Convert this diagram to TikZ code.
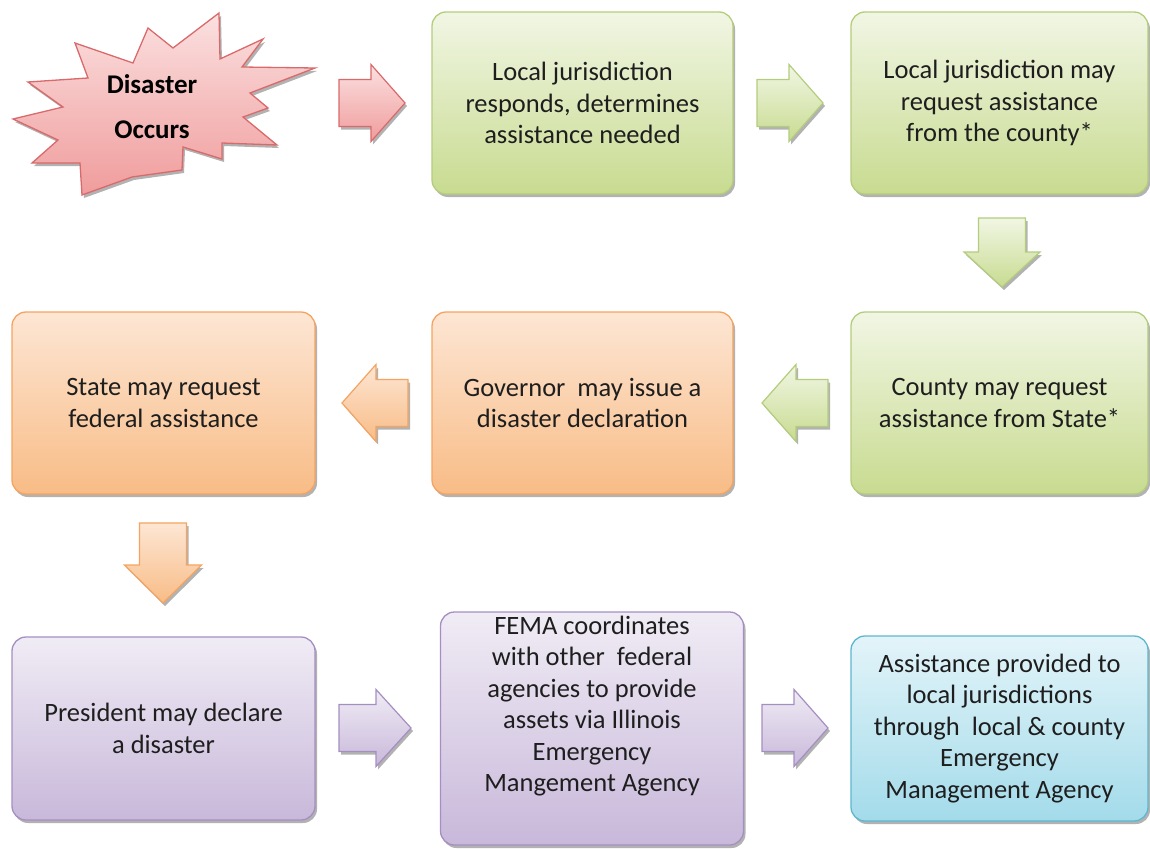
\documentclass[tikz,border=0pt]{standalone}
\usepackage{fontspec}
\setmainfont{Carlito}
\usetikzlibrary{shadows}
\definecolor{gtop}{HTML}{F1F6E4}
\definecolor{gbot}{HTML}{C8DB90}
\definecolor{gline}{HTML}{B4CD7C}
\definecolor{otop}{HTML}{FDE6D4}
\definecolor{obot}{HTML}{F8BC86}
\definecolor{oline}{HTML}{F4A460}
\definecolor{ptop}{HTML}{F0ECF5}
\definecolor{pbot}{HTML}{C8B8DA}
\definecolor{pline}{HTML}{A58FC2}
\definecolor{btop}{HTML}{E3F4F9}
\definecolor{bbot}{HTML}{A3DBEA}
\definecolor{bline}{HTML}{5DB7D0}
\definecolor{rtop}{HTML}{FBE0E0}
\definecolor{rbot}{HTML}{F09C9C}
\definecolor{rline}{HTML}{D96A6C}
\definecolor{txt}{HTML}{1E1E1E}
\tikzset{
  shad/.style={drop shadow={shadow xshift=2pt,shadow yshift=-3pt,opacity=0.3,fill=black}},
  box/.style={rounded corners=14pt,line width=1.3pt,align=center,text=txt,
    font=\fontsize{26.5}{31.5}\selectfont,inner sep=0pt,shad},
  greenbox/.style={box,draw=gline,top color=gtop,bottom color=gbot},
  orangebox/.style={box,draw=oline,top color=otop,bottom color=obot},
  purplebox/.style={box,draw=pline,top color=ptop,bottom color=pbot},
  bluebox/.style={box,draw=bline,top color=btop,bottom color=bbot},
  boxtext/.style={align=center,text=txt,font=\fontsize{26.5}{31.5}\selectfont,inner sep=0pt},
  blockarrow/.style={line width=1.2pt,line join=miter,shad},
  garrow/.style={blockarrow,draw=gline,top color=gtop,bottom color=gbot},
  oarrow/.style={blockarrow,draw=oline,top color=otop,bottom color=obot},
  parrow/.style={blockarrow,draw=pline,top color=ptop,bottom color=pbot},
  rarrow/.style={blockarrow,draw=rline,top color=rtop,bottom color=rbot},
}
\begin{document}
\begin{tikzpicture}[x=1pt,y=-1pt]
\useasboundingbox (0,0) rectangle (1150,848);
% starburst
\draw[rline,line width=1.3pt,top color=rtop,bottom color=rbot,shad,line join=miter]
  (219,13)--(220,59)--(263,39)--(242,67)--(315,68)--(250,93)--(268,108)--(243,117)
  --(277,145)--(222,143)--(222,159)--(183,147)--(182,170)--(132,177)--(82,195)
  --(80,163)--(32,163)--(58,140)--(13,119)--(63,107)--(28,82)--(88,78)--(75,43)
  --(133,63)--(148,28)--(173,48)--cycle;
\node[align=center,font=\bfseries\fontsize{27}{45}\selectfont,text=black,inner sep=0pt]
  (dis) at (152,107) {Disaster\\Occurs};
% boxes
\node[greenbox,minimum width=301pt,minimum height=182pt] (a) at (582.5,103)
  {Local jurisdiction\\responds, determines\\assistance needed};
\node[greenbox,minimum width=297pt,minimum height=182pt] (b) at (999.5,103)
  {Local jurisdiction may\\request assistance\\from the county*};
\node[greenbox,minimum width=297pt,minimum height=182pt] (c) at (999.5,403)
  {County may request\\assistance from State*};
\node[orangebox,minimum width=301pt,minimum height=182pt] (d) at (582.5,403)
  {Governor\ \ may issue a\\disaster declaration};
\node[orangebox,minimum width=303pt,minimum height=182pt] (e) at (163.5,403)
  {State may request\\federal assistance};
\node[purplebox,minimum width=303pt,minimum height=183pt] (f) at (163.5,728.5)
  {President may declare\\a disaster};
\node[purplebox,minimum width=303pt,minimum height=233pt] (g) at (592,728.5) {};
\node[boxtext] (gt) at (592,706)
  {FEMA coordinates\\with other\ \ federal\\agencies to provide\\assets via Illinois\\Emergency\\Mangement Agency};
\node[bluebox,minimum width=297pt,minimum height=185pt] (h) at (999.5,728.5)
  {Assistance provided to\\local jurisdictions\\through\ \ local \& county\\Emergency\\Management Agency};
% block arrows (right)
\draw[rarrow,shift={(372,103)}] (-33,-23.5)--(-1,-23.5)--(-1,-38.5)--(33,0)--(-1,38.5)--(-1,23.5)--(-33,23.5)--cycle;
\draw[garrow,shift={(790,103)}] (-33,-23.5)--(-1,-23.5)--(-1,-38.5)--(33,0)--(-1,38.5)--(-1,23.5)--(-33,23.5)--cycle;
\draw[parrow,shift={(375,728)}] (-36,-23.5)--(1,-23.5)--(1,-38.5)--(36,0)--(1,38.5)--(1,23.5)--(-36,23.5)--cycle;
\draw[parrow,shift={(795,728)}] (-33,-23.5)--(-1,-23.5)--(-1,-38.5)--(33,0)--(-1,38.5)--(-1,23.5)--(-33,23.5)--cycle;
% block arrows (left)
\draw[garrow,shift={(795,403)}] (33,-23.5)--(1,-23.5)--(1,-38.5)--(-33,0)--(1,38.5)--(1,23.5)--(33,23.5)--cycle;
\draw[oarrow,shift={(375,403)}] (33,-23.5)--(1,-23.5)--(1,-38.5)--(-33,0)--(1,38.5)--(1,23.5)--(33,23.5)--cycle;
% block arrows (down)
\draw[garrow,shift={(1002,0)}] (-23.5,218)--(23.5,218)--(23.5,252)--(38,252)--(0,287)--(-38,252)--(-23.5,252)--cycle;
\draw[oarrow,shift={(163,0)}] (-23.5,523)--(23.5,523)--(23.5,565)--(38.5,565)--(0,603)--(-38.5,565)--(-23.5,565)--cycle;
\end{tikzpicture}
\end{document}
